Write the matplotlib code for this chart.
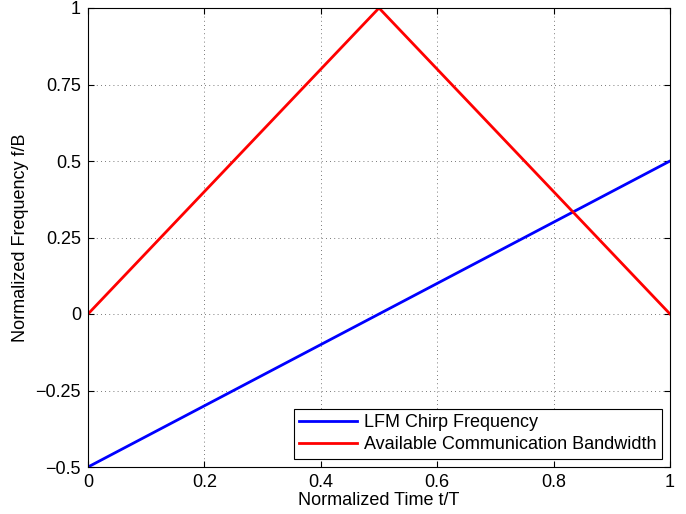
import matplotlib
matplotlib.use("Agg")
import matplotlib.pyplot as plt

t_chirp = [0.0, 1.0]
f_chirp = [-0.5, 0.5]
t_band = [0.0, 0.5, 1.0]
f_band = [0.0, 1.0, 0.0]
xticks = [0, 0.2, 0.4, 0.6, 0.8, 1]
xticklabels = ["0", "0.2", "0.4", "0.6", "0.8", "1"]
yticks = [-0.5, -0.25, 0, 0.25, 0.5, 0.75, 1]
yticklabels = ["\u22120.5", "\u22120.25", "0", "0.25", "0.5", "0.75", "1"]

plt.rcParams['font.family'] = ['Liberation Sans', 'DejaVu Sans']
plt.rcParams['font.size'] = 13

fig = plt.figure(figsize=(6.86, 5.14), dpi=100)
ax = fig.add_axes([88/686, 1-467/514, (670-88)/686, (467-8)/514])

ax.plot(t_chirp, f_chirp, color=(0, 0, 1), lw=2, label="LFM Chirp Frequency")
ax.plot(t_band, f_band, color=(1, 0, 0), lw=2, label="Available Communication Bandwidth")

ax.set_xlim(0, 1)
ax.set_ylim(-0.5, 1)
ax.set_xticks(xticks)
ax.set_xticklabels(xticklabels)
ax.set_yticks(yticks)
ax.set_yticklabels(yticklabels)
ax.grid(True, color='black', linestyle=(0, (1, 4)), linewidth=0.6, alpha=0.7)
ax.tick_params(direction='in', top=True, right=True, length=4, width=0.8, pad=5)
for s in ax.spines.values():
    s.set_linewidth(0.8)

ax.set_xlabel("Normalized Time t/T", labelpad=1)
ax.set_ylabel("Normalized Frequency f/B", labelpad=5)

leg = ax.legend(loc='lower right', fancybox=False, edgecolor='black', framealpha=1,
                borderaxespad=0.45, handlelength=3.2, handletextpad=0.4,
                labelspacing=0.3, borderpad=0.3)
leg.get_frame().set_linewidth(0.8)

fig.savefig("out.png", dpi=100)
